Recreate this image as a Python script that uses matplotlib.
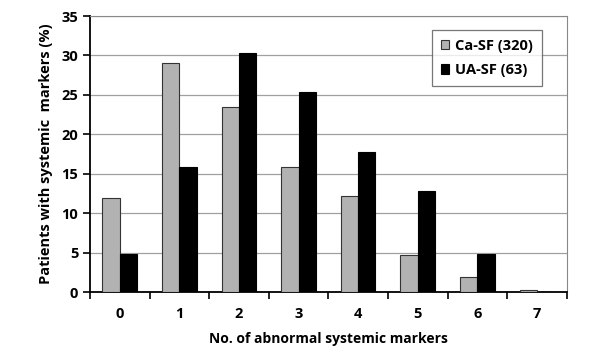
import matplotlib
matplotlib.use('Agg')
import matplotlib.pyplot as plt
import numpy as np

plt.rcParams['font.family'] = ['Open Sans', 'DejaVu Sans']
plt.rcParams['font.weight'] = 'bold'
plt.rcParams['axes.labelweight'] = 'bold'

categories = ['0', '1', '2', '3', '4', '5', '6', '7']
ca_sf = [11.9, 29.0, 23.5, 15.9, 12.2, 4.7, 1.9, 0.3]
ua_sf = [4.8, 15.9, 30.3, 25.4, 17.7, 12.8, 4.8, 0.0]
yticks = [0, 5, 10, 15, 20, 25, 30, 35]

fig = plt.figure(figsize=(6.12, 3.57), dpi=100)
ax = fig.add_axes([0.147, 0.182, 0.779, 0.773])

x = np.arange(len(categories))
w = 0.29
ax.bar(x - w/2, ca_sf, w, color='#b2b2b2', edgecolor='#333333', lw=0.8, label='Ca-SF (320)', zorder=3)
ax.bar(x + w/2, ua_sf, w, color='black', edgecolor='black', lw=0.8, label='UA-SF (63)', zorder=3)

ax.set_xlim(-0.5, len(categories) - 0.5)
ax.set_ylim(0, 35)
ax.set_yticks(yticks)
ax.set_xticks(x)
ax.set_xticklabels(categories, fontweight='bold')
ax.set_yticklabels([str(t) for t in yticks], fontweight='bold')
ax.set_xticks(np.arange(-0.5, len(categories)), minor=True)
ax.tick_params(axis='x', which='major', length=0, pad=11, labelsize=10.5)
ax.tick_params(axis='x', which='minor', length=5, width=1.2, direction='out')
ax.tick_params(axis='y', length=5, width=1.2, labelsize=10.5)
ax.yaxis.grid(True, color='#a0a0a0', lw=0.9, zorder=0)

for s in ['top', 'right']:
    ax.spines[s].set_color('#888888')
for s in ['left', 'bottom']:
    ax.spines[s].set_linewidth(1.3)

ax.set_xlabel('No. of abnormal systemic markers', fontsize=10, labelpad=8)
ax.set_ylabel('Patients with systemic  markers (%)', fontsize=10.5, labelpad=6)

leg = ax.legend(loc='upper right', bbox_to_anchor=(0.963, 0.975), fancybox=False,
                edgecolor='#555555', prop={'size': 10.5, 'weight': 'bold'},
                handlelength=0.6, handleheight=0.6,
                handletextpad=0.4, borderpad=0.6, labelspacing=0.7)
leg.get_frame().set_linewidth(0.9)

plt.savefig('out.png', dpi=100)
